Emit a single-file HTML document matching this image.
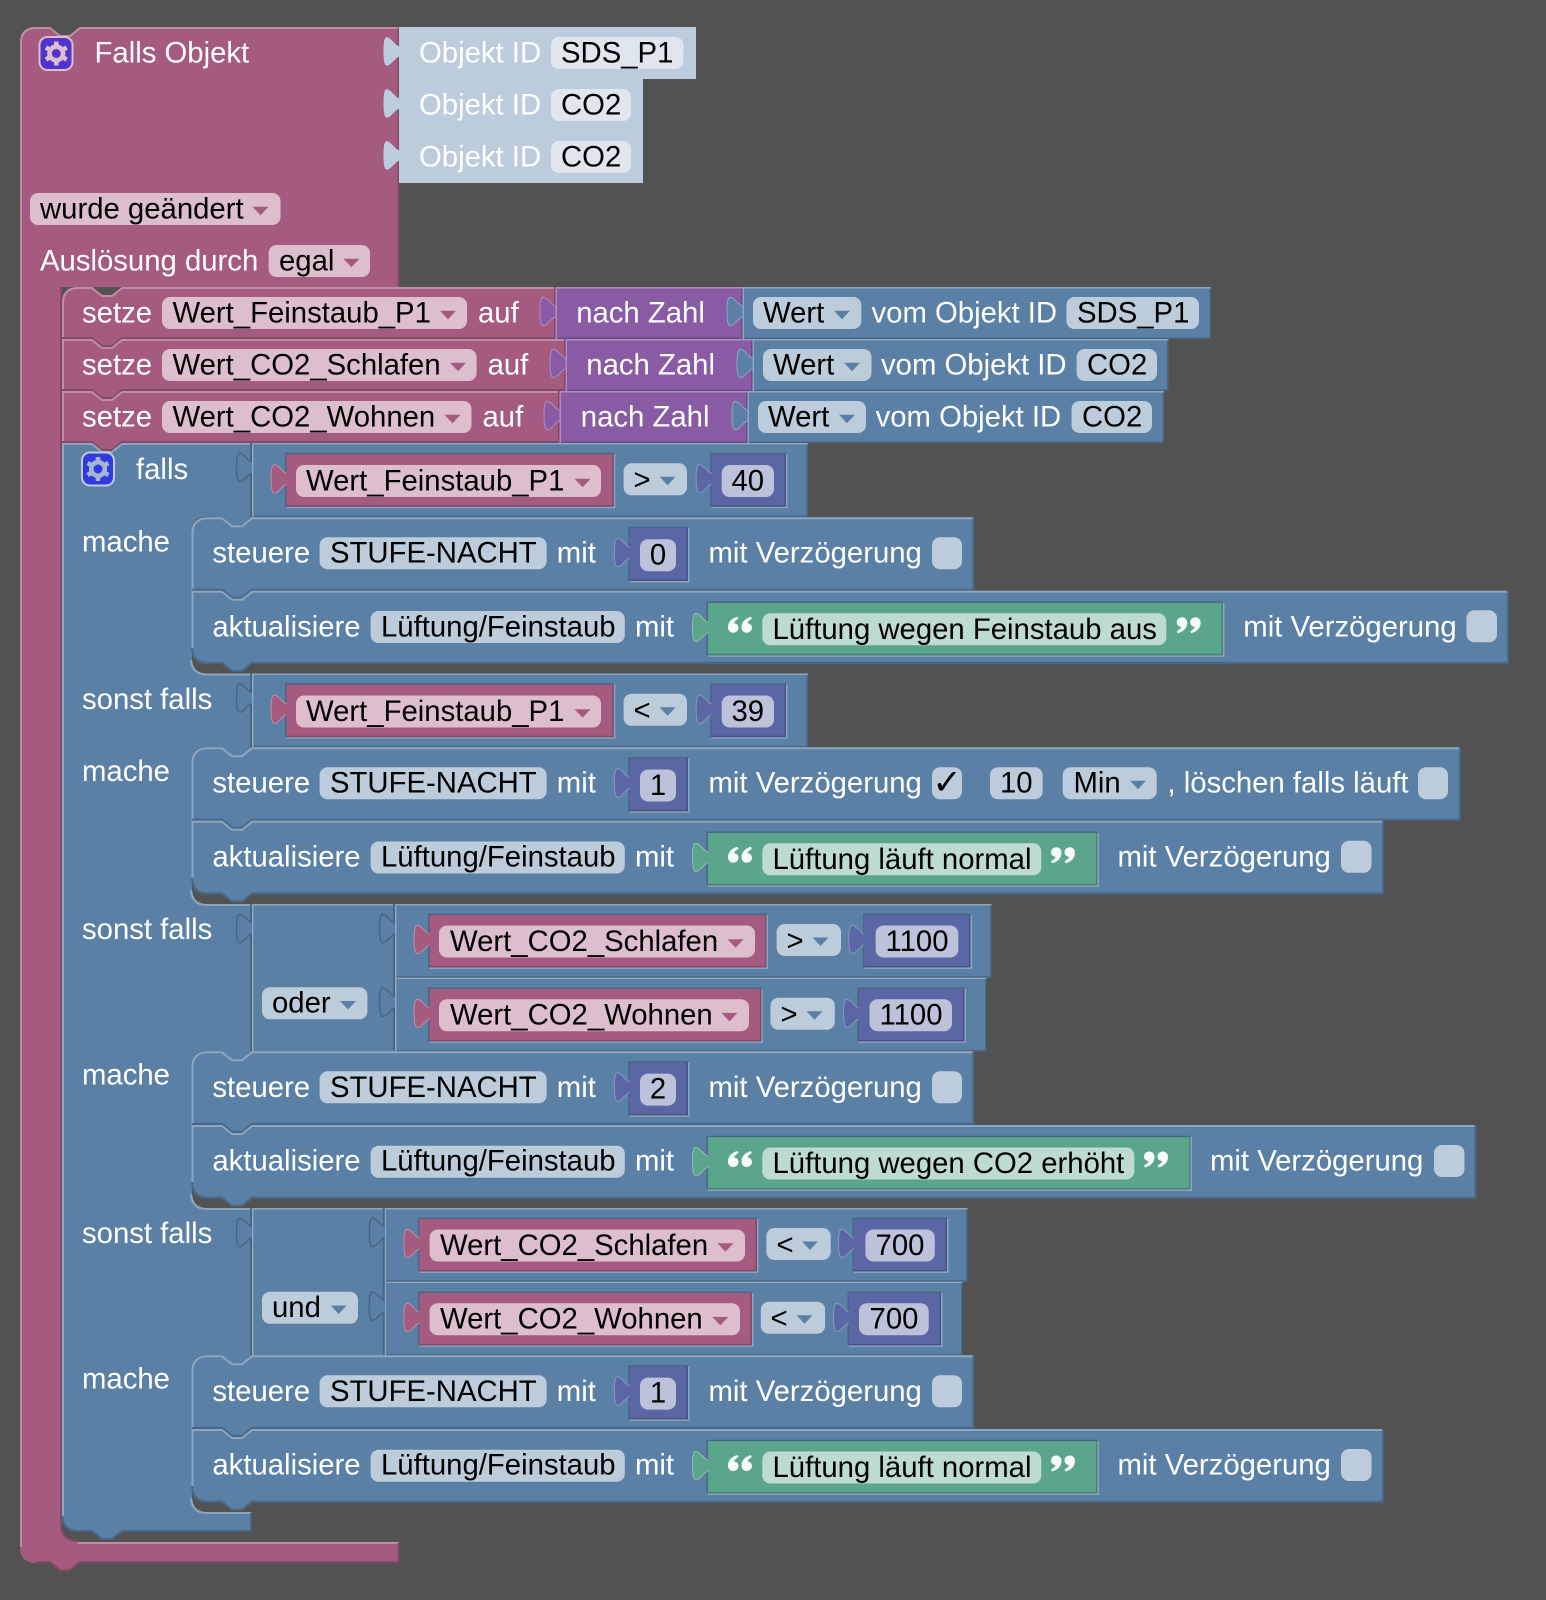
<!DOCTYPE html>
<html><head><meta charset="utf-8"><style>
html,body{margin:0;padding:0;background:#525252}
svg{display:block}
text{font-family:"Liberation Sans",sans-serif;font-size:29.3px}
.w{fill:#fff}.k{fill:#000}.m{text-anchor:middle}
.p{fill:#a55b80}.P1{fill:#c08da6}.P2{fill:#844966}
.b{fill:#5b80a5}.B1{fill:#8ca6c0}.B2{fill:#496684}
.v{fill:#8a5ba5}.V1{fill:#ad8cc0}.V2{fill:#6e4984}
.n{fill:#5b67a5}.N1{fill:#8c95c0}.N2{fill:#495284}
.g{fill:#5ba58c}.G1{fill:#8cc0ae}.G2{fill:#498470}
.o{fill:#bcccdc}
.fo{fill:#dfe6ee}.fp{fill:#dcbecd}.fb{fill:#bdccdb}.fg{fill:#bddbd1}.fn{fill:#bdc2db}
.sph,.sps,.sbh,.sbs{fill:none;stroke-width:2}
.sph{stroke:#c08da6}.sps{stroke:#844966}.sbh{stroke:#8ca6c0}.sbs{stroke:#496684}
.tp{fill:#a55b80;stroke:#c08da6;stroke-width:1}
.tv{fill:#8a5ba5;stroke:#ad8cc0;stroke-width:1}
.tb{fill:#5b80a5;stroke:#8ca6c0;stroke-width:1}
.tn{fill:#5b67a5;stroke:#8c95c0;stroke-width:1}
.tg{fill:#5ba58c;stroke:#8cc0ae;stroke-width:1}
.ts{fill:#5b80a5;stroke:#496684;stroke-width:1.5}
.q{fill:#fff;opacity:.95}
</style></head><body>
<svg xmlns="http://www.w3.org/2000/svg" width="1546" height="1600" viewBox="0 0 1546 1600">
<defs>
<path id="t" d="M0 19C-3 19-7 12-11 10.5C-14 9.5-15.5 12-15.5 24.500C-15.500 36-14 39.500-11 38.500C-7 37-3 30 0 30"/>
<path id="a" d="M0 0H16L8 8.5Z"/>
<path id="q" d="M5 16C2 16 0 13.5 0 10.5C0 5 4 1.5 9.5 0L10.5 2C7.5 3.5 6 5.5 6 6.5C8.5 6.5 10.5 8.5 10.5 11C10.5 14 8 16 5 16ZM18.5 16C15.5 16 13.5 13.5 13.5 10.5C13.5 5 17.5 1.5 23 0L24 2C21 3.5 19.5 5.5 19.5 6.5C22 6.5 24 8.5 24 11C24 14 21.5 16 18.5 16Z"/>
<g id="gear" fill="none" stroke="currentColor"><circle r="6.8" stroke-width="4.6"/><path stroke-width="4.6" d="M0-12V-8M0 12V8M10.4-6L6.9-4M-10.4 6L-6.9 4M10.4 6L6.9 4M-10.4-6L-6.9-4"/></g>
</defs>
<rect width="1546" height="1600" fill="#525252"/>

<!-- outer block -->
<path class="p" d="M36 27H50L60 35H70L80 27H399.500V287H62V1526Q62 1542 78 1542H399.500V1563H80L70 1571H60L50 1563H36Q20 1563 20 1547V43Q20 27 36 27Z"/>
<path class="sph" d="M21 1547V43Q21 28 36 28H50L60 36H70L80 28H398M78 1543H398.500"/>
<path class="sps" d="M398.500 28V287M61 287V1526Q62 1541 78 1541M398.500 1543V1562H80L70 1570H60L50 1562H36"/>

<rect x="39.5" y="37" width="33" height="33" rx="8" fill="#5332d0" stroke="#dcbecd" stroke-width="2"/>
<use href="#gear" x="56.3" y="53.5" color="#dcbecd"/>
<text class="w" x="94.5" y="62.5">Falls Objekt</text>

<rect class="o" x="399" y="27" width="297" height="52"/>
<rect class="o" x="399" y="79" width="244" height="52"/>
<rect class="o" x="399" y="131" width="244" height="52"/>
<use href="#t" class="o" x="399" y="27"/><use href="#t" class="o" x="399" y="79"/><use href="#t" class="o" x="399" y="131"/>
<text class="w" x="419" y="62.5">Objekt ID</text><rect class="fo" x="551" y="37" width="132.500" height="32" rx="8"/><text class="k" x="561" y="62.5">SDS_P1</text>
<text class="w" x="419" y="114.5">Objekt ID</text><rect class="fo" x="551" y="89" width="80" height="32" rx="8"/><text class="k" x="561" y="114.5">CO2</text>
<text class="w" x="419" y="166.5">Objekt ID</text><rect class="fo" x="551" y="141" width="80" height="32" rx="8"/><text class="k" x="561" y="166.5">CO2</text>

<rect class="fp" x="30" y="193" width="250.5" height="32" rx="8"/><text class="k" x="40" y="218.5">wurde geändert</text><use href="#a" class="p" x="252.5" y="206.7"/>
<text class="w" x="40" y="270.5">Auslösung durch</text><rect class="fp" x="268.6" y="245" width="101.4" height="32" rx="8"/><text class="k" x="279" y="270.5">egal</text><use href="#a" class="p" x="343.4" y="258.7"/>

<!-- setze rows -->
<g transform="translate(0,287)">
<path class="p" d="M78 0H92L102 8H112L122 0H556V52H122L112 60H102L92 52H62V16Q62 0 78 0Z"/>
<path class="sph" d="M63 52V16Q63 1 78 1H92L102 9H112L122 1H555"/><path class="sps" d="M555 0V51H122L112 59H102L92 51H62"/>
<text class="w" x="82" y="35.5">setze</text><rect class="fp" x="162" y="10" width="305" height="32" rx="8"/><text class="k" x="172.5" y="35.5">Wert_Feinstaub_P1</text><use href="#a" class="p" x="440" y="23.7"/><text class="w" x="478" y="35.5">auf</text>
<rect class="V1" x="555.500" y="0" width="187" height="52"/><rect class="V2" x="557" y="1.5" width="185.5" height="50.5"/><rect class="v" x="557" y="1.5" width="184" height="49"/><use href="#t" class="tv" x="555.500" y="0"/>
<text class="w" x="576.2" y="35.5">nach Zahl</text>
<rect class="B1" x="742.500" y="0" width="468.500" height="52"/><rect class="B2" x="744" y="1.5" width="467" height="50.5"/><rect class="b" x="744" y="1.5" width="465.500" height="49"/><use href="#t" class="tb" x="742.500" y="0"/>
<rect class="fb" x="753" y="10" width="108.3" height="32" rx="8"/><text class="k" x="763" y="35.5">Wert</text><use href="#a" class="b" x="834" y="23.7"/><text class="w" x="871.5" y="35.5">vom Objekt ID</text><rect class="fb" x="1066.4" y="10" width="132.6" height="32" rx="8"/><text class="k" x="1077" y="35.5">SDS_P1</text>
</g>
<g transform="translate(0,339)">
<path class="p" d="M62 0H92L102 8H112L122 0H566V52H122L112 60H102L92 52H62Z"/>
<path class="sph" d="M63 52V1H92L102 9H112L122 1H565"/><path class="sps" d="M565 0V51H122L112 59H102L92 51H62"/>
<text class="w" x="82" y="35.5">setze</text><rect class="fp" x="162" y="10" width="314.6" height="32" rx="8"/><text class="k" x="172.5" y="35.5">Wert_CO2_Schlafen</text><use href="#a" class="p" x="450" y="23.7"/><text class="w" x="487.6" y="35.5">auf</text>
<rect class="V1" x="565.500" y="0" width="187" height="52"/><rect class="V2" x="567" y="1.5" width="185.5" height="50.5"/><rect class="v" x="567" y="1.5" width="184" height="49"/><use href="#t" class="tv" x="565.500" y="0"/>
<text class="w" x="586.3" y="35.5">nach Zahl</text>
<rect class="B1" x="752.500" y="0" width="416" height="52"/><rect class="B2" x="754" y="1.5" width="414.500" height="50.5"/><rect class="b" x="754" y="1.5" width="413" height="49"/><use href="#t" class="tb" x="752.500" y="0"/>
<rect class="fb" x="763" y="10" width="108.5" height="32" rx="8"/><text class="k" x="773" y="35.5">Wert</text><use href="#a" class="b" x="844" y="23.7"/><text class="w" x="881" y="35.5">vom Objekt ID</text><rect class="fb" x="1076.6" y="10" width="80.4" height="32" rx="8"/><text class="k" x="1087" y="35.5">CO2</text>
</g>
<g transform="translate(0,391)">
<path class="p" d="M62 0H92L102 8H112L122 0H560V52H122L112 60H102L92 52H62Z"/>
<path class="sph" d="M63 52V1H92L102 9H112L122 1H559"/><path class="sps" d="M559 0V51H122L112 59H102L92 51H62"/>
<text class="w" x="82" y="35.5">setze</text><rect class="fp" x="162" y="10" width="309.5" height="32" rx="8"/><text class="k" x="172.5" y="35.5">Wert_CO2_Wohnen</text><use href="#a" class="p" x="444.5" y="23.7"/><text class="w" x="482.5" y="35.5">auf</text>
<rect class="V1" x="559.500" y="0" width="188" height="52"/><rect class="V2" x="561" y="1.5" width="186.5" height="50.5"/><rect class="v" x="561" y="1.5" width="185" height="49"/><use href="#t" class="tv" x="559.500" y="0"/>
<text class="w" x="580.8" y="35.5">nach Zahl</text>
<rect class="B1" x="747.500" y="0" width="416.500" height="52"/><rect class="B2" x="749" y="1.5" width="415" height="50.5"/><rect class="b" x="749" y="1.5" width="413.500" height="49"/><use href="#t" class="tb" x="747.500" y="0"/>
<rect class="fb" x="758" y="10" width="108" height="32" rx="8"/><text class="k" x="768" y="35.5">Wert</text><use href="#a" class="b" x="839" y="23.7"/><text class="w" x="875.6" y="35.5">vom Objekt ID</text><rect class="fb" x="1071.5" y="10" width="80.5" height="32" rx="8"/><text class="k" x="1082" y="35.5">CO2</text>
</g>

<!-- if block -->
<path class="b" d="M62 443H92L102 451H112L122 443H252V516.7L242 524.7H232L222 516.7H207Q192 516.7 192 531V658Q192 673.5 207 673.5H252V747.2L242 755.2H232L222 747.2H207Q192 747.2 192 762V888Q192 904 207 904H252V1051.3L242 1059.3H232L222 1051.3H207Q192 1051.3 192 1066V1192Q192 1208 207 1208H252V1355.3L242 1363.3H232L222 1355.3H207Q192 1355.3 192 1370V1496Q192 1512 207 1512H252V1532H122L112 1540H102L92 1532H78Q62 1532 62 1516Z"/>
<path class="sbh" d="M63 1516V444H92L102 452H112L122 444H252M191 660Q192 674.5 207 674.5H252M191 890Q192 905 207 905H252M191 1194Q192 1209 207 1209H252M191 1498Q192 1513 207 1513H251"/>
<path class="sbs" d="M251 1513V1531H122L112 1539H102L92 1531H78Q63 1531 62 1516"/>
<rect x="82" y="452.5" width="32" height="33" rx="8" fill="#3139e0" stroke="#bdccdb" stroke-width="2"/>
<use href="#gear" x="98" y="469" color="#a3b6d3"/>
<text class="w" x="136" y="479">falls</text>

<!-- section 0 condition -->
<g transform="translate(0,443)">
<rect class="B1" x="252" y="0" width="556" height="74"/><rect class="B2" x="253.5" y="1.5" width="554.500" height="72.5"/><rect class="b" x="253.5" y="1.5" width="553" height="71"/><path class="sbs" d="M251 0V74"/><use href="#t" class="ts" x="252" y="0"/>
<rect class="B1" x="286.6" y="11.3" width="328.7" height="53.9"/><rect class="B2" x="285.1" y="9.8" width="328.7" height="53.9"/><rect class="P2" x="286.6" y="11.3" width="327.2" height="52.4"/><rect class="p" x="286.6" y="11.3" width="325.7" height="50.9"/><use href="#t" class="tp" x="286.6" y="11.3"/>
<rect class="fp" x="296" y="22" width="305" height="32" rx="8"/><text class="k" x="306" y="47.5">Wert_Feinstaub_P1</text><use href="#a" class="p" x="574.6" y="35.7"/>
<rect class="fb" x="623.6" y="20.3" width="63.4" height="32" rx="8"/><text class="k" x="633.500" y="46.500">&gt;</text><use href="#a" class="b" x="659.6" y="33.8"/>
<rect class="B1" x="711.6" y="11.3" width="75.9" height="53.9"/><rect class="B2" x="710.1" y="9.8" width="75.9" height="53.9"/><rect class="N2" x="711.6" y="11.3" width="74.4" height="52.4"/><rect class="n" x="711.6" y="11.3" width="72.9" height="50.9"/><use href="#t" class="tn" x="711.6" y="11.3"/>
<rect class="fn" x="721.7" y="22" width="52.3" height="32" rx="8"/><text class="k m" x="747.8" y="47.5">40</text>
</g>
<g transform="translate(0,517.2)">
<path class="b" d="M208 0H222L232 8H242L252 0H974.5V73.6H252L242 81.6H232L222 73.6H191.500V16Q191.500 0 208 0Z"/>
<path class="sbh" d="M192.500 73.6V16Q192.500 1 208 1H222L232 9H242L252 1H973.5"/><path class="sbs" d="M973.5 0V72.6H252L242 80.6H232L222 72.6H192"/>
<text class="w" x="82" y="34.500">mache</text>
<text class="w" x="212.4" y="45.5">steuere</text><rect class="fb" x="319.6" y="20" width="227" height="32" rx="8"/><text class="k" x="330" y="45.5">STUFE-NACHT</text><text class="w" x="556.8" y="45.5">mit</text>
<rect class="B1" x="629.8" y="11" width="59.7" height="54.2"/><rect class="B2" x="628.3" y="9.5" width="59.7" height="54.2"/><rect class="N2" x="629.8" y="11" width="58.2" height="52.7"/><rect class="n" x="629.8" y="11" width="56.7" height="51.2"/><use href="#t" class="tn" x="629.8" y="11"/>
<rect class="fn" x="640" y="22" width="36" height="32" rx="8"/><text class="k m" x="658" y="47.3">0</text>
<text class="w" x="708.5" y="45.5">mit Verzögerung</text><rect class="fb" x="932" y="20" width="30" height="32" rx="8"/>
</g>
<g transform="translate(0,590.8)">
<path class="b" d="M191.500 0H222L232 8H242L252 0H1509V73.2H252L242 81.2H232L222 73.2H208Q191.500 73.2 191.500 57.2Z"/>
<path class="sbh" d="M192.500 57V1H222L232 9H242L252 1H1508"/><path class="sbs" d="M1508 0V72.2H252L242 80.2H232L222 72.2H208Q193 72.2 192 57"/>
<text class="w" x="212.4" y="45.5">aktualisiere</text><rect class="fb" x="370.6" y="20.2" width="254.2" height="32" rx="8"/><text class="k" x="381" y="45.5">Lüftung/Feinstaub</text><text class="w" x="635" y="45.5">mit</text>
<rect class="B1" x="708" y="12.2" width="516.500" height="53.8"/><rect class="B2" x="706.5" y="10.7" width="516.500" height="53.8"/><rect class="G2" x="708" y="12.2" width="515" height="52.3"/><rect class="g" x="708" y="12.2" width="513.5" height="50.8"/><use href="#t" class="tg" x="708" y="12.2"/>
<use href="#q" class="q" x="728" y="26"/>
<rect class="fg" x="762.3" y="22.500" width="404" height="32" rx="8"/><text class="k" x="772.5" y="48">Lüftung wegen Feinstaub aus</text>
<use href="#q" class="q" transform="translate(1200.7,42.500) rotate(180)"/>
<text class="w" x="1243.3" y="45.5">mit Verzögerung</text><rect class="fb" x="1466.5" y="19.500" width="30.5" height="32" rx="8"/>
</g>

<!-- section 1 condition -->
<text class="w" x="82" y="709">sonst falls</text>
<g transform="translate(0,673.5)">
<rect class="B1" x="252" y="0" width="556" height="73.7"/><rect class="B2" x="253.5" y="1.5" width="554.500" height="72.2"/><rect class="b" x="253.5" y="1.5" width="553" height="70.7"/><path class="sbs" d="M251 0V74"/><use href="#t" class="ts" x="252" y="0"/>
<rect class="B1" x="286.6" y="11.3" width="328.7" height="53.9"/><rect class="B2" x="285.1" y="9.8" width="328.7" height="53.9"/><rect class="P2" x="286.6" y="11.3" width="327.2" height="52.4"/><rect class="p" x="286.6" y="11.3" width="325.7" height="50.9"/><use href="#t" class="tp" x="286.6" y="11.3"/>
<rect class="fp" x="296" y="22" width="305" height="32" rx="8"/><text class="k" x="306" y="47.5">Wert_Feinstaub_P1</text><use href="#a" class="p" x="574.6" y="35.7"/>
<rect class="fb" x="623.6" y="20.3" width="63.4" height="32" rx="8"/><text class="k" x="633.500" y="46.500">&lt;</text><use href="#a" class="b" x="659.6" y="33.8"/>
<rect class="B1" x="711.6" y="11.3" width="75.9" height="53.9"/><rect class="B2" x="710.1" y="9.8" width="75.9" height="53.9"/><rect class="N2" x="711.6" y="11.3" width="74.4" height="52.4"/><rect class="n" x="711.6" y="11.3" width="72.9" height="50.9"/><use href="#t" class="tn" x="711.6" y="11.3"/>
<rect class="fn" x="721.7" y="22" width="52.3" height="32" rx="8"/><text class="k m" x="747.8" y="47.5">39</text>
</g>
<g transform="translate(0,747.2)">
<path class="b" d="M208 0H222L232 8H242L252 0H1461V73.6H252L242 81.6H232L222 73.6H191.500V16Q191.500 0 208 0Z"/>
<path class="sbh" d="M192.500 73.6V16Q192.500 1 208 1H222L232 9H242L252 1H1460"/><path class="sbs" d="M1460 0V72.6H252L242 80.6H232L222 72.6H192"/>
<text class="w" x="82" y="34">mache</text>
<text class="w" x="212.4" y="45.5">steuere</text><rect class="fb" x="319.6" y="20" width="227" height="32" rx="8"/><text class="k" x="330" y="45.5">STUFE-NACHT</text><text class="w" x="556.8" y="45.5">mit</text>
<rect class="B1" x="629.8" y="11.3" width="59.7" height="54.2"/><rect class="B2" x="628.3" y="9.8" width="59.7" height="54.2"/><rect class="N2" x="629.8" y="11.3" width="58.2" height="52.7"/><rect class="n" x="629.8" y="11.3" width="56.7" height="51.2"/><use href="#t" class="tn" x="629.8" y="11.3"/>
<rect class="fn" x="640" y="22.3" width="36" height="32" rx="8"/><text class="k m" x="658" y="47.8">1</text>
<text class="w" x="708.5" y="45.5">mit Verzögerung</text><rect class="fb" x="932" y="20" width="30" height="32" rx="8"/>
<text class="k m" x="947" y="47" style="font-family:'DejaVu Sans',sans-serif;font-weight:bold;font-size:35px">✓</text>
<rect class="fb" x="990" y="20" width="52.7" height="32" rx="8"/><text class="k m" x="1016.3" y="45.5">10</text>
<rect class="fb" x="1062.7" y="20" width="94" height="32" rx="8"/><text class="k" x="1073.5" y="45.5">Min</text><use href="#a" class="b" x="1130" y="33.5"/>
<text class="w" x="1167.5" y="45.5">, löschen falls läuft</text><rect class="fb" x="1418" y="20" width="30" height="32" rx="8"/>
</g>
<g transform="translate(0,820.8)">
<path class="b" d="M191.500 0H222L232 8H242L252 0H1384V73.7H252L242 81.7H232L222 73.7H208Q191.500 73.7 191.500 57.7Z"/>
<path class="sbh" d="M192.500 57V1H222L232 9H242L252 1H1383"/><path class="sbs" d="M1383 0V72.7H252L242 80.7H232L222 72.7H208Q193 72.7 192 57"/>
<text class="w" x="212.4" y="45.5">aktualisiere</text><rect class="fb" x="370.6" y="20.7" width="254.2" height="32" rx="8"/><text class="k" x="381" y="45.7">Lüftung/Feinstaub</text><text class="w" x="635" y="45.5">mit</text>
<rect class="B1" x="708" y="12.2" width="391" height="53.8"/><rect class="B2" x="706.5" y="10.7" width="391" height="53.8"/><rect class="G2" x="708" y="12.2" width="389.5" height="52.3"/><rect class="g" x="708" y="12.2" width="388" height="50.8"/><use href="#t" class="tg" x="708" y="12.2"/>
<use href="#q" class="q" x="728" y="26"/>
<rect class="fg" x="762.3" y="22.5" width="279" height="32" rx="8"/><text class="k" x="772.5" y="48">Lüftung läuft normal</text>
<use href="#q" class="q" transform="translate(1075,42.5) rotate(180)"/>
<text class="w" x="1117.5" y="45.5">mit Verzögerung</text><rect class="fb" x="1341" y="20" width="30.5" height="32" rx="8"/>
</g>

<!-- section 2 condition -->
<text class="w" x="82" y="939">sonst falls</text>
<g transform="translate(0,904)">
<rect class="B1" x="252" y="0" width="143" height="147.3"/><rect class="b" x="253.5" y="1.5" width="141.5" height="145.8"/><path class="sbs" d="M251 0V147.3"/><use href="#t" class="ts" x="252" y="0"/>
<rect class="fb" x="262" y="83.3" width="105.4" height="32" rx="8"/><text class="k" x="272" y="108.500">oder</text><use href="#a" class="b" x="340" y="97"/>
</g>
<g transform="translate(0,904)">
<rect class="B1" x="395" y="0" width="596.500" height="73.7"/><rect class="B2" x="396.5" y="1.5" width="595" height="72.2"/><rect class="b" x="396.5" y="1.5" width="593.5" height="70.7"/><path class="sbs" d="M394 0V74"/><use href="#t" class="ts" x="395" y="0"/>
<rect class="B1" x="429.6" y="11" width="338.3" height="53.9"/><rect class="B2" x="428.1" y="9.5" width="338.3" height="53.9"/><rect class="P2" x="429.6" y="11" width="336.8" height="52.4"/><rect class="p" x="429.6" y="11" width="335.3" height="50.9"/><use href="#t" class="tp" x="429.6" y="11"/>
<rect class="fp" x="439" y="21.5" width="316" height="32" rx="8"/><text class="k" x="450" y="47">Wert_CO2_Schlafen</text><use href="#a" class="p" x="727.6" y="35.2"/>
<rect class="fb" x="776.6" y="20" width="64.4" height="32" rx="8"/><text class="k" x="786.500" y="46.500">&gt;</text><use href="#a" class="b" x="812.5" y="33.5"/>
<rect class="B1" x="864.3" y="11" width="107.7" height="53.9"/><rect class="B2" x="862.8" y="9.5" width="107.7" height="53.9"/><rect class="N2" x="864.3" y="11" width="106.2" height="52.4"/><rect class="n" x="864.3" y="11" width="104.7" height="50.9"/><use href="#t" class="tn" x="864.3" y="11"/>
<rect class="fn" x="875.6" y="21.5" width="82.7" height="32" rx="8"/><text class="k m" x="917" y="47">1100</text>
</g>
<g transform="translate(0,977.7)">
<rect class="B1" x="395" y="0" width="591.500" height="73.7"/><rect class="B2" x="396.5" y="1.5" width="590" height="72.2"/><rect class="b" x="396.5" y="1.5" width="588.5" height="70.7"/><path class="sbs" d="M394 0V74"/><use href="#t" class="ts" x="395" y="0"/>
<rect class="B1" x="429.6" y="11.3" width="333.2" height="53.9"/><rect class="B2" x="428.1" y="9.8" width="333.2" height="53.9"/><rect class="P2" x="429.6" y="11.3" width="331.7" height="52.4"/><rect class="p" x="429.6" y="11.3" width="330.2" height="50.9"/><use href="#t" class="tp" x="429.6" y="11.3"/>
<rect class="fp" x="439" y="21.5" width="310" height="32" rx="8"/><text class="k" x="450" y="47">Wert_CO2_Wohnen</text><use href="#a" class="p" x="721.5" y="35.2"/>
<rect class="fb" x="770.5" y="20" width="64.3" height="32" rx="8"/><text class="k" x="780.500" y="46.500">&gt;</text><use href="#a" class="b" x="806.5" y="33.5"/>
<rect class="B1" x="859" y="11.3" width="106.9" height="53.9"/><rect class="B2" x="857.5" y="9.8" width="106.9" height="53.9"/><rect class="N2" x="859" y="11.3" width="105.4" height="52.4"/><rect class="n" x="859" y="11.3" width="103.9" height="50.9"/><use href="#t" class="tn" x="859" y="11.3"/>
<rect class="fn" x="869.5" y="21.5" width="82.5" height="32" rx="8"/><text class="k m" x="911" y="47">1100</text>
</g>
<g transform="translate(0,1051.3)">
<path class="b" d="M208 0H222L232 8H242L252 0H974.5V73.7H252L242 81.7H232L222 73.7H191.500V16Q191.500 0 208 0Z"/>
<path class="sbh" d="M192.500 73.7V16Q192.500 1 208 1H222L232 9H242L252 1H973.5"/><path class="sbs" d="M973.5 0V72.7H252L242 80.7H232L222 72.7H192"/>
<text class="w" x="82" y="33">mache</text>
<text class="w" x="212.4" y="45.5">steuere</text><rect class="fb" x="319.6" y="20" width="227" height="32" rx="8"/><text class="k" x="330" y="45.5">STUFE-NACHT</text><text class="w" x="556.8" y="45.5">mit</text>
<rect class="B1" x="629.8" y="11.3" width="59.7" height="54.2"/><rect class="B2" x="628.3" y="9.8" width="59.7" height="54.2"/><rect class="N2" x="629.8" y="11.3" width="58.2" height="52.7"/><rect class="n" x="629.8" y="11.3" width="56.7" height="51.2"/><use href="#t" class="tn" x="629.8" y="11.3"/>
<rect class="fn" x="640" y="22.3" width="36" height="32" rx="8"/><text class="k m" x="658" y="47">2</text>
<text class="w" x="708.5" y="45.5">mit Verzögerung</text><rect class="fb" x="932" y="20" width="30" height="32" rx="8"/>
</g>
<g transform="translate(0,1125)">
<path class="b" d="M191.500 0H222L232 8H242L252 0H1476.500V73.7H252L242 81.7H232L222 73.7H208Q191.500 73.7 191.500 57.7Z"/>
<path class="sbh" d="M192.500 57V1H222L232 9H242L252 1H1475.500"/><path class="sbs" d="M1475.500 0V72.7H252L242 80.7H232L222 72.7H208Q193 72.7 192 57"/>
<text class="w" x="212.4" y="45.5">aktualisiere</text><rect class="fb" x="370.6" y="20.7" width="254.2" height="32" rx="8"/><text class="k" x="381" y="45.7">Lüftung/Feinstaub</text><text class="w" x="635" y="45.5">mit</text>
<rect class="B1" x="708" y="12.2" width="484" height="53.8"/><rect class="B2" x="706.5" y="10.7" width="484" height="53.8"/><rect class="G2" x="708" y="12.2" width="482.5" height="52.3"/><rect class="g" x="708" y="12.2" width="481" height="50.8"/><use href="#t" class="tg" x="708" y="12.2"/>
<use href="#q" class="q" x="728" y="26"/>
<rect class="fg" x="762.3" y="22.5" width="372" height="32" rx="8"/><text class="k" x="772.5" y="48">Lüftung wegen CO2 erhöht</text>
<use href="#q" class="q" transform="translate(1168,42.5) rotate(180)"/>
<text class="w" x="1210" y="45.5">mit Verzögerung</text><rect class="fb" x="1434" y="20" width="30.5" height="32" rx="8"/>
</g>

<!-- section 3 condition -->
<text class="w" x="82" y="1243">sonst falls</text>
<g transform="translate(0,1208)">
<rect class="B1" x="252" y="0" width="133" height="147.3"/><rect class="b" x="253.5" y="1.5" width="131.5" height="145.8"/><path class="sbs" d="M251 0V147.3"/><use href="#t" class="ts" x="252" y="0"/>
<rect class="fb" x="262" y="83.8" width="96" height="32" rx="8"/><text class="k" x="272" y="109">und</text><use href="#a" class="b" x="330.6" y="97.5"/>
</g>
<g transform="translate(0,1208)">
<rect class="B1" x="384.7" y="0" width="582.8" height="73.7"/><rect class="B2" x="386.2" y="1.5" width="581.3" height="72.2"/><rect class="b" x="386.2" y="1.5" width="579.8" height="70.7"/><path class="sbs" d="M383.7 0V74"/><use href="#t" class="ts" x="384.7" y="0"/>
<rect class="B1" x="419.4" y="11" width="339.1" height="53.9"/><rect class="B2" x="417.9" y="9.5" width="339.1" height="53.9"/><rect class="P2" x="419.4" y="11" width="337.6" height="52.4"/><rect class="p" x="419.4" y="11" width="336.1" height="50.9"/><use href="#t" class="tp" x="419.4" y="11"/>
<rect class="fp" x="429.6" y="21.5" width="315.4" height="32" rx="8"/><text class="k" x="440" y="47">Wert_CO2_Schlafen</text><use href="#a" class="p" x="717.4" y="35.2"/>
<rect class="fb" x="766.4" y="20" width="64.3" height="32" rx="8"/><text class="k" x="776.500" y="46.500">&lt;</text><use href="#a" class="b" x="802" y="33.5"/>
<rect class="B1" x="854" y="11" width="94.5" height="53.9"/><rect class="B2" x="852.5" y="9.5" width="94.5" height="53.9"/><rect class="N2" x="854" y="11" width="93" height="52.4"/><rect class="n" x="854" y="11" width="91.5" height="50.9"/><use href="#t" class="tn" x="854" y="11"/>
<rect class="fn" x="865.4" y="21.5" width="69.4" height="32" rx="8"/><text class="k m" x="900" y="47">700</text>
</g>
<g transform="translate(0,1281.7)">
<rect class="B1" x="384.7" y="0" width="577.8" height="73.7"/><rect class="B2" x="386.2" y="1.5" width="576.3" height="72.2"/><rect class="b" x="386.2" y="1.5" width="574.8" height="70.7"/><path class="sbs" d="M383.7 0V74"/><use href="#t" class="ts" x="384.7" y="0"/>
<rect class="B1" x="419.4" y="11.3" width="334.1" height="53.9"/><rect class="B2" x="417.9" y="9.8" width="334.1" height="53.9"/><rect class="P2" x="419.4" y="11.3" width="332.6" height="52.4"/><rect class="p" x="419.4" y="11.3" width="331.1" height="50.9"/><use href="#t" class="tp" x="419.4" y="11.3"/>
<rect class="fp" x="429.6" y="21.5" width="310.4" height="32" rx="8"/><text class="k" x="440" y="47">Wert_CO2_Wohnen</text><use href="#a" class="p" x="712.3" y="35.2"/>
<rect class="fb" x="760.8" y="20" width="64.3" height="32" rx="8"/><text class="k" x="770.500" y="46.500">&lt;</text><use href="#a" class="b" x="796.5" y="33.5"/>
<rect class="B1" x="849" y="11.3" width="93.5" height="53.9"/><rect class="B2" x="847.5" y="9.8" width="93.5" height="53.9"/><rect class="N2" x="849" y="11.3" width="92" height="52.4"/><rect class="n" x="849" y="11.3" width="90.5" height="50.9"/><use href="#t" class="tn" x="849" y="11.3"/>
<rect class="fn" x="859" y="21.5" width="69.7" height="32" rx="8"/><text class="k m" x="894" y="47">700</text>
</g>
<g transform="translate(0,1355.3)">
<path class="b" d="M208 0H222L232 8H242L252 0H974.5V73.7H252L242 81.7H232L222 73.7H191.500V16Q191.500 0 208 0Z"/>
<path class="sbh" d="M192.500 73.7V16Q192.500 1 208 1H222L232 9H242L252 1H973.5"/><path class="sbs" d="M973.5 0V72.7H252L242 80.7H232L222 72.7H192"/>
<text class="w" x="82" y="33">mache</text>
<text class="w" x="212.4" y="45.5">steuere</text><rect class="fb" x="319.6" y="20" width="227" height="32" rx="8"/><text class="k" x="330" y="45.5">STUFE-NACHT</text><text class="w" x="556.8" y="45.5">mit</text>
<rect class="B1" x="629.8" y="11.3" width="59.7" height="54.2"/><rect class="B2" x="628.3" y="9.8" width="59.7" height="54.2"/><rect class="N2" x="629.8" y="11.3" width="58.2" height="52.7"/><rect class="n" x="629.8" y="11.3" width="56.7" height="51.2"/><use href="#t" class="tn" x="629.8" y="11.3"/>
<rect class="fn" x="640" y="22.3" width="36" height="32" rx="8"/><text class="k m" x="658" y="47">1</text>
<text class="w" x="708.5" y="45.5">mit Verzögerung</text><rect class="fb" x="932" y="20" width="30" height="32" rx="8"/>
</g>
<g transform="translate(0,1429)">
<path class="b" d="M191.500 0H222L232 8H242L252 0H1384V73.7H252L242 81.7H232L222 73.7H208Q191.500 73.7 191.500 57.7Z"/>
<path class="sbh" d="M192.500 57V1H222L232 9H242L252 1H1383"/><path class="sbs" d="M1383 0V72.7H252L242 80.7H232L222 72.7H208Q193 72.7 192 57"/>
<text class="w" x="212.4" y="45.5">aktualisiere</text><rect class="fb" x="370.6" y="20.7" width="254.2" height="32" rx="8"/><text class="k" x="381" y="45.7">Lüftung/Feinstaub</text><text class="w" x="635" y="45.5">mit</text>
<rect class="B1" x="708" y="12.2" width="391" height="53.8"/><rect class="B2" x="706.5" y="10.7" width="391" height="53.8"/><rect class="G2" x="708" y="12.2" width="389.5" height="52.3"/><rect class="g" x="708" y="12.2" width="388" height="50.8"/><use href="#t" class="tg" x="708" y="12.2"/>
<use href="#q" class="q" x="728" y="26"/>
<rect class="fg" x="762.3" y="22.5" width="279" height="32" rx="8"/><text class="k" x="772.5" y="48">Lüftung läuft normal</text>
<use href="#q" class="q" transform="translate(1075,42.5) rotate(180)"/>
<text class="w" x="1117.5" y="45.5">mit Verzögerung</text><rect class="fb" x="1341" y="20" width="30.5" height="32" rx="8"/>
</g>
</svg>
</body></html>
